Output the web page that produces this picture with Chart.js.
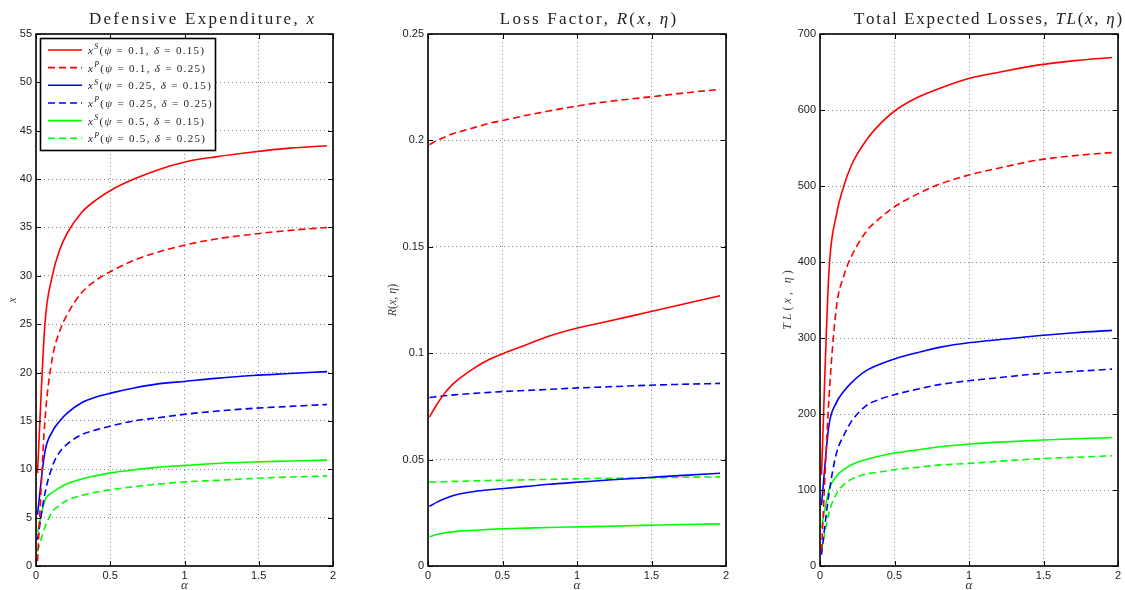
<!DOCTYPE html>
<html>
<head>
<meta charset="utf-8">
<script src="https://cdn.jsdelivr.net/npm/chart.js@4.4.0/dist/chart.umd.min.js"></script>
<style>
    html, body { margin: 0; padding: 0; background: #fff; }
    #wrap { position: relative; width: 1125px; height: 590px; overflow: hidden; }
    .panel { position: absolute; top: 0; height: 590px; }
</style>
</head>
<body>
<div id="wrap">
    <div class="panel" style="left:0px;width:345px"><canvas id="expChart" width="345" height="590"></canvas></div>
    <div class="panel" style="left:375px;width:365px"><canvas id="lossChart" width="365" height="590"></canvas></div>
    <div class="panel" style="left:765px;width:360px"><canvas id="totalChart" width="360" height="590"></canvas></div>
</div>
<script>
// Sample points of alpha (shared by every curve)
const alpha = [0.01, 0.06, 0.11, 0.16, 0.21, 0.31, 0.41, 0.51, 0.66, 0.81, 1.01, 1.21, 1.46, 1.71, 1.96];

const seriesLabels = [
    'x^S(ψ = 0.1, δ = 0.15)',
    'x^P(ψ = 0.1, δ = 0.25)',
    'x^S(ψ = 0.25, δ = 0.15)',
    'x^P(ψ = 0.25, δ = 0.25)',
    'x^S(ψ = 0.5, δ = 0.15)',
    'x^P(ψ = 0.5, δ = 0.25)'
];

// Defensive expenditure, x
const expS010 = [9.6, 25.0, 30.0, 32.7, 34.4, 36.6, 37.9, 38.9, 40.0, 40.9, 41.8, 42.3, 42.8, 43.2, 43.45];
const expP010 = [0.5, 15.0, 21.5, 24.3, 26.0, 28.3, 29.6, 30.5, 31.6, 32.4, 33.2, 33.8, 34.3, 34.7, 35.0];
const expS025 = [5.3, 11.8, 13.9, 15.0, 15.8, 16.9, 17.5, 17.9, 18.4, 18.8, 19.1, 19.4, 19.7, 19.9, 20.1];
const expP025 = [2.7, 7.5, 10.3, 11.8, 12.6, 13.6, 14.1, 14.5, 15.0, 15.3, 15.7, 16.0, 16.3, 16.5, 16.7];
const expS050 = [3.5, 6.8, 7.6, 8.1, 8.5, 9.0, 9.35, 9.65, 9.95, 10.2, 10.4, 10.6, 10.75, 10.85, 10.95];
const expP050 = [1.5, 4.0, 5.6, 6.3, 6.8, 7.3, 7.65, 7.9, 8.2, 8.45, 8.7, 8.85, 9.05, 9.2, 9.3];

// Loss factor, R(x, eta)
const lossS010 = [0.070, 0.076, 0.081, 0.085, 0.088, 0.093, 0.097, 0.100, 0.104, 0.108, 0.112, 0.115, 0.119, 0.123, 0.127];
const lossP010 = [0.198, 0.200, 0.2015, 0.203, 0.204, 0.206, 0.208, 0.2095, 0.2118, 0.2138, 0.2163, 0.2183, 0.2202, 0.2222, 0.224];
const lossS025 = [0.0280, 0.0300, 0.0316, 0.0329, 0.0338, 0.0350, 0.0358, 0.0364, 0.0374, 0.0384, 0.0394, 0.0404, 0.0415, 0.0426, 0.0436];
const lossP025 = [0.0792, 0.0796, 0.0800, 0.0803, 0.0806, 0.0811, 0.0816, 0.0820, 0.0825, 0.0830, 0.0837, 0.0842, 0.0849, 0.0854, 0.0858];
const lossS050 = [0.0138, 0.0148, 0.0155, 0.0160, 0.0164, 0.0168, 0.0172, 0.0175, 0.0178, 0.0181, 0.0184, 0.0187, 0.0191, 0.0195, 0.0198];
const lossP050 = [0.0394, 0.0395, 0.0396, 0.0397, 0.0398, 0.0400, 0.0402, 0.0403, 0.0405, 0.0407, 0.0410, 0.0412, 0.0414, 0.0417, 0.0419];

// Total expected losses, TL(x, eta)
const totalS010 = [120, 387, 462, 500, 527, 560, 583, 600, 617, 629, 642, 650, 659, 665, 669];
const totalP010 = [20, 220, 340, 382, 407, 440, 459, 474, 490, 503, 515, 524, 534, 540, 544];
const totalS025 = [80, 185, 215, 230, 241, 257, 266, 273, 281, 288, 294, 298, 303, 307, 310];
const totalP025 = [15, 95, 148, 172, 190, 211, 220, 226, 233, 239, 244, 248, 253, 256, 259];
const totalS050 = [50, 100, 118, 127, 133, 140, 145, 149, 153, 157, 160.5, 163, 165.5, 167.5, 169];
const totalP050 = [20, 70, 95, 107, 114, 121, 124, 127, 130, 133, 135, 138, 141, 143, 145];

const xTicks = [0, 0.5, 1, 1.5, 2];

const lineStyles = [
    { color: '#ff0000', dash: [] },
    { color: '#ff0000', dash: [7, 4] },
    { color: '#0000ff', dash: [] },
    { color: '#0000ff', dash: [7, 4] },
    { color: '#00ff00', dash: [] },
    { color: '#00ff00', dash: [7, 4] }
];

const SERIF = '"Liberation Serif", "DejaVu Serif", serif';
const SANS = '"Liberation Sans", Arial, sans-serif';

// --- small rich-text helpers (italic math letters, superscripts, letter spacing) ---
function mathRuns(str) {
    const runs = [];
    for (let i = 0; i < str.length; i++) {
        const ch = str[i];
        if (ch === '^') {
            runs.push({ t: str[++i], it: true, sup: true });
            continue;
        }
        runs.push({ t: ch, it: /[A-Za-z\u0370-\u03FF]/.test(ch) });
    }
    return runs;
}

function plainRuns(str) {
    return str.split('').map(ch => ({ t: ch, it: false }));
}

function runFont(r, size) {
    const s = r.sup ? size * 0.72 : size;
    return `${r.it ? 'italic ' : ''}${s}px ${SERIF}`;
}

function runsWidth(ctx, runs, size, spacing) {
    let w = 0;
    runs.forEach(r => {
        ctx.font = runFont(r, size);
        w += ctx.measureText(r.t).width + spacing;
    });
    return w - spacing;
}

function drawRuns(ctx, runs, x, y, size, spacing, align, color) {
    const w = runsWidth(ctx, runs, size, spacing);
    let cx = align === 'center' ? x - w / 2 : x;
    ctx.save();
    ctx.fillStyle = color || '#222';
    ctx.textAlign = 'left';
    ctx.textBaseline = 'alphabetic';
    runs.forEach(r => {
        ctx.font = runFont(r, size);
        ctx.fillText(r.t, cx, r.sup ? y - size * 0.42 : y);
        cx += ctx.measureText(r.t).width + spacing;
    });
    ctx.restore();
}

// --- MATLAB-like decorations: box, inward ticks, titles, legend ---
const matlabDecor = {
    id: 'matlabDecor',
    afterDatasetsDraw(chart, args, opts) {
        const { ctx, chartArea: a } = chart;
        const xs = chart.scales.x, ys = chart.scales.y;
        ctx.save();
        ctx.strokeStyle = '#000';
        ctx.lineWidth = 1;
        ctx.beginPath();
        xs.ticks.forEach(t => {
            const px = Math.round(xs.getPixelForValue(t.value)) + 0.5;
            ctx.moveTo(px, a.bottom); ctx.lineTo(px, a.bottom - 5);
            ctx.moveTo(px, a.top); ctx.lineTo(px, a.top + 5);
        });
        ys.ticks.forEach(t => {
            const py = Math.round(ys.getPixelForValue(t.value)) + 0.5;
            ctx.moveTo(a.left, py); ctx.lineTo(a.left + 5, py);
            ctx.moveTo(a.right, py); ctx.lineTo(a.right - 5, py);
        });
        ctx.stroke();
        ctx.lineWidth = 1.6;
        ctx.strokeRect(a.left, a.top, a.right - a.left, a.bottom - a.top);
        ctx.restore();
    },
    afterDraw(chart, args, opts) {
        const { ctx, chartArea: a } = chart;
        const midX = (a.left + a.right) / 2;
        const midY = (a.top + a.bottom) / 2;

        const titleRuns = plainRuns(opts.title[0]).concat(mathRuns(opts.title[1]));
        drawRuns(ctx, titleRuns, midX + opts.titleShift, 24, 17, opts.titleSpacing, 'center', '#222');
        drawRuns(ctx, mathRuns('α'), midX, 589, 13, 0, 'center', '#333');

        ctx.save();
        ctx.translate(a.left - opts.yLabelGap, midY);
        ctx.rotate(-Math.PI / 2);
        drawRuns(ctx, mathRuns(opts.yLabel), 0, 4, 12, opts.yLabelSpacing, 'center', '#444');
        ctx.restore();

        if (opts.legend) drawLegend(chart);
    }
};

function drawLegend(chart) {
    const { ctx } = chart;
    const box = { left: 40.5, top: 38.5, right: 215.5, bottom: 150.5 };
    ctx.save();
    ctx.fillStyle = '#fff';
    ctx.fillRect(box.left, box.top, box.right - box.left, box.bottom - box.top);
    ctx.strokeStyle = '#000';
    ctx.lineWidth = 1.6;
    ctx.strokeRect(box.left, box.top, box.right - box.left, box.bottom - box.top);

    chart.data.datasets.forEach((ds, i) => {
        const y = 50 + i * 17.65;
        ctx.strokeStyle = ds.borderColor;
        ctx.lineWidth = 1.6;
        ctx.setLineDash(ds.borderDash || []);
        ctx.beginPath();
        ctx.moveTo(48, y); ctx.lineTo(82, y);
        ctx.stroke();
        ctx.setLineDash([]);
        drawRuns(ctx, mathRuns(ds.label), 88, y + 4, 11, 1.3, 'left', '#222');
    });
    ctx.restore();
}

function buildDatasets(seriesList) {
    return seriesList.map((values, i) => ({
        label: seriesLabels[i],
        data: alpha.map((a, k) => ({ x: a, y: values[k] })),
        borderColor: lineStyles[i].color,
        borderDash: lineStyles[i].dash,
        borderWidth: 1.6,
        pointRadius: 0,
        fill: false,
        cubicInterpolationMode: 'monotone'
    }));
}

function createPanel(cfg) {
    const ctx = document.getElementById(cfg.id).getContext('2d');
    return new Chart(ctx, {
        type: 'line',
        data: { datasets: buildDatasets(cfg.series) },
        plugins: [matlabDecor],
        options: {
            responsive: false,
            animation: false,
            devicePixelRatio: 1,
            layout: { padding: { left: 0, right: cfg.padRight, top: 34, bottom: 0 } },
            plugins: {
                legend: { display: false },
                tooltip: { enabled: false },
                matlabDecor: {
                    title: cfg.title,
                    titleShift: cfg.titleShift || 0,
                    titleSpacing: cfg.titleSpacing,
                    yLabel: cfg.yLabel,
                    yLabelGap: cfg.yLabelGap,
                    yLabelSpacing: cfg.yLabelSpacing || 0,
                    legend: !!cfg.legend
                }
            },
            scales: {
                x: {
                    type: 'linear',
                    min: 0,
                    max: 2,
                    afterBuildTicks: (scale) => { scale.ticks = xTicks.map(v => ({ value: v })); },
                    afterFit: (scale) => { scale.height = 24; },
                    ticks: {
                        font: { family: SANS, size: 11 },
                        color: '#222',
                        padding: 3,
                        maxRotation: 0,
                        callback: (v) => String(v)
                    },
                    grid: { color: '#8a8a8a', lineWidth: 1, drawTicks: false },
                    border: { display: false, dash: [1, 3] }
                },
                y: {
                    type: 'linear',
                    min: 0,
                    max: cfg.yMax,
                    afterFit: (scale) => { scale.width = cfg.axisWidth; },
                    ticks: {
                        stepSize: cfg.yStep,
                        font: { family: SANS, size: 11 },
                        color: '#222',
                        padding: 4,
                        callback: (v) => String(+v.toFixed(2))
                    },
                    grid: { color: '#8a8a8a', lineWidth: 1, drawTicks: false },
                    border: { display: false, dash: [1, 3] }
                }
            }
        }
    });
}

const charts = [
    createPanel({
        id: 'expChart',
        title: ['Defensive Expenditure, ', 'x'],
        titleShift: 17, titleSpacing: 2.3,
        yLabel: 'x',
        yLabelGap: 24,
        yMax: 55, yStep: 5,
        axisWidth: 36, padRight: 12,
        series: [expS010, expP010, expS025, expP025, expS050, expP050],
        legend: true
    }),
    createPanel({
        id: 'lossChart',
        title: ['Loss Factor, ', 'R(x, η)'],
        titleShift: 11, titleSpacing: 2.2,
        yLabel: 'R(x, η)',
        yLabelGap: 36,
        yMax: 0.25, yStep: 0.05,
        axisWidth: 53, padRight: 14,
        series: [lossS010, lossP010, lossS025, lossP025, lossS050, lossP050]
    }),
    createPanel({
        id: 'totalChart',
        title: ['Total Expected Losses, ', 'TL(x, η)'],
        titleShift: 19, titleSpacing: 1.7,
        yLabel: 'TL(x, η)',
        yLabelGap: 33,
        yLabelSpacing: 3,
        yMax: 700, yStep: 100,
        axisWidth: 55, padRight: 7,
        series: [totalS010, totalP010, totalS025, totalP025, totalS050, totalP050]
    })
];
</script>
</body>
</html>
